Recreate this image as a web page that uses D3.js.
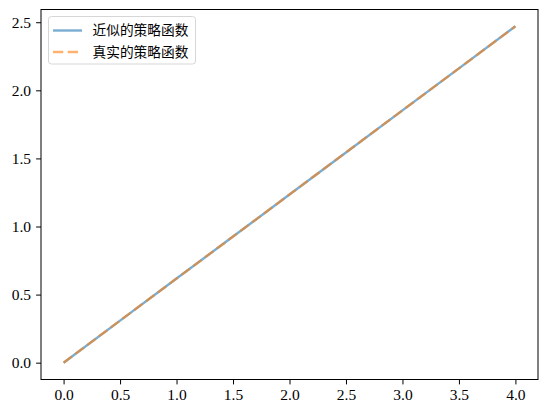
<!DOCTYPE html>
<html>
<head>
<meta charset="utf-8">
<script src="https://cdn.jsdelivr.net/npm/d3@7"></script>
<style>
  body { margin: 0; background: #fff; }
  svg text { font-family: "Liberation Serif", "DejaVu Serif", serif; }
</style>
</head>
<body>
<script>
// data
var xValues = [0, 0.5, 1, 1.5, 2, 2.5, 3, 3.5, 4];
var approxValues = [0, 0.309, 0.618, 0.926, 1.235, 1.544, 1.853, 2.161, 2.47];
var trueValues = [0, 0.309, 0.618, 0.926, 1.235, 1.544, 1.853, 2.161, 2.47];
var seriesNames = ['近似的策略函数', '真实的策略函数'];
var xTicks = [0, 0.5, 1, 1.5, 2, 2.5, 3, 3.5, 4];
var yTicks = [0, 0.5, 1, 1.5, 2, 2.5];

var svgWidth = 546;
var svgHeight = 413;
var margin = {left: 41, right: 8, top: 9.5, bottom: 33.5};

var svg = d3.select('body')
  .append('svg')
  .attr('width', svgWidth)
  .attr('height', svgHeight);

var x = d3.scaleLinear()
  .domain([-0.2, 4.2])
  .range([margin.left, svgWidth - margin.right]);

var yMax = d3.max(trueValues);
var y = d3.scaleLinear()
  .domain([-0.05 * yMax, 1.05 * yMax])
  .range([svgHeight - margin.bottom, margin.top]);

var fmt = d3.format('.1f');

// axes
var xAxis = svg.append('g')
  .attr('transform', 'translate(0,' + (svgHeight - margin.bottom) + ')')
  .call(d3.axisBottom(x).tickValues(xTicks).tickFormat(fmt).tickSize(4.9).tickPadding(4.5));
var yAxis = svg.append('g')
  .attr('transform', 'translate(' + margin.left + ',0)')
  .call(d3.axisLeft(y).tickValues(yTicks).tickFormat(fmt).tickSize(4.9).tickPadding(5));

[xAxis, yAxis].forEach(function (g) {
  g.select('.domain').remove();
  g.selectAll('line').attr('stroke', '#000').attr('stroke-width', 1);
  g.selectAll('text').attr('fill', '#000').style('font-size', '15.5px');
});

// data lines
var approxLine = d3.line()
  .x(function (d, i) { return x(xValues[i]); })
  .y(function (d) { return y(d); });

svg.append('path')
  .datum(approxValues)
  .attr('d', approxLine)
  .attr('fill', 'none')
  .attr('stroke', '#1f77b4')
  .attr('stroke-opacity', 0.6)
  .attr('stroke-width', 2.4);

svg.append('path')
  .datum(trueValues)
  .attr('d', approxLine)
  .attr('fill', 'none')
  .attr('stroke', '#ff7f0e')
  .attr('stroke-opacity', 0.6)
  .attr('stroke-width', 2.4)
  .attr('stroke-dasharray', '10.3,4.4');

// frame
svg.append('rect')
  .attr('x', margin.left)
  .attr('y', margin.top)
  .attr('width', svgWidth - margin.left - margin.right)
  .attr('height', svgHeight - margin.top - margin.bottom)
  .attr('fill', 'none')
  .attr('stroke', '#000')
  .attr('stroke-width', 1);

// legend
var legend = svg.append('g');
legend.append('rect')
  .attr('x', 48.5)
  .attr('y', 16.5)
  .attr('width', 147)
  .attr('height', 47.5)
  .attr('rx', 3)
  .attr('fill', '#fff')
  .attr('fill-opacity', 0.8)
  .attr('stroke', '#d6d6d6')
  .attr('stroke-width', 1);

var legendRows = legend.selectAll('g.row')
  .data(seriesNames)
  .enter()
  .append('g')
  .attr('class', 'row')
  .attr('transform', function (d, i) { return 'translate(0,' + (30.5 + i * 21.5) + ')'; });

legendRows.append('line')
  .attr('x1', 53)
  .attr('x2', 82)
  .attr('y1', 0)
  .attr('y2', 0)
  .attr('stroke', function (d, i) { return i == 0 ? '#1f77b4' : '#ff7f0e'; })
  .attr('stroke-opacity', 0.6)
  .attr('stroke-width', 2.4)
  .attr('stroke-dasharray', function (d, i) { return i == 0 ? null : '10.3,4.4'; });

legendRows.append('text')
  .attr('x', 92.5)
  .attr('y', 0)
  .attr('dy', '0.36em')
  .style('font-family', '"Noto Sans CJK SC", sans-serif')
  .style('font-size', '13.7px')
  .attr('fill', '#000')
  .text(function (d) { return d; });
</script>
</body>
</html>
